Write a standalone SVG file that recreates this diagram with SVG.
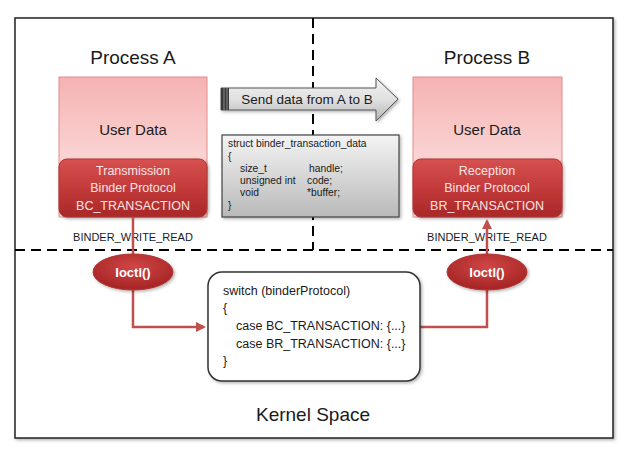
<svg xmlns="http://www.w3.org/2000/svg" width="625" height="458" viewBox="0 0 625 458">
<style>
text{font-family:"Liberation Sans",Arial,sans-serif;fill:#1a1a1a}
.title{font-size:19px;text-anchor:middle}
.ud{font-size:15px;text-anchor:middle}
.proto{font-size:12.5px;text-anchor:middle;fill:#fde4e4}
.bwr{font-size:11px;text-anchor:middle}
.ioctl{font-size:13px;font-weight:bold;text-anchor:middle;fill:#ffffff}
.code{font-size:10.3px}
.sw{font-size:12.5px}
.dash{stroke:#000;stroke-width:2;stroke-dasharray:10 6;fill:none}
.pbox{fill:url(#pink);stroke:#e58a8a;stroke-width:1}
.rbox{fill:url(#red);stroke:#b03535;stroke-width:1}
.ell{fill:url(#redE);stroke:#b03535;stroke-width:1}
.conn{stroke:#c0504d;stroke-width:2.5;fill:none}
</style>
<defs>
<linearGradient id="pink" x1="0" y1="0" x2="0" y2="1">
<stop offset="0" stop-color="#f6b2b2"/>
<stop offset="1" stop-color="#fdecec"/>
</linearGradient>
<linearGradient id="red" x1="0" y1="0" x2="0" y2="1">
<stop offset="0" stop-color="#d65151"/>
<stop offset="0.5" stop-color="#c33a3a"/>
<stop offset="1" stop-color="#a92828"/>
</linearGradient>
<radialGradient id="redE" cx="0.5" cy="0.35" r="0.6">
<stop offset="0" stop-color="#d14646"/>
<stop offset="1" stop-color="#a82626"/>
</radialGradient>
<linearGradient id="gray" x1="0" y1="0" x2="0" y2="1">
<stop offset="0" stop-color="#f4f4f4"/>
<stop offset="1" stop-color="#b9b9b9"/>
</linearGradient>
<linearGradient id="arrowG" x1="0" y1="0" x2="0" y2="1">
<stop offset="0" stop-color="#f2f2f2"/>
<stop offset="0.5" stop-color="#e0e0e0"/>
<stop offset="1" stop-color="#b5b5b5"/>
</linearGradient>
<filter id="sh" x="-10%" y="-10%" width="130%" height="130%">
<feDropShadow dx="1.5" dy="1.5" stdDeviation="1.5" flood-color="#000" flood-opacity="0.3"/>
</filter>
<marker id="ah" viewBox="0 0 10 10" refX="8" refY="5" markerWidth="4" markerHeight="4" orient="auto" markerUnits="strokeWidth">
<path d="M0,0 L10,5 L0,10 Z" fill="#c0504d"/>
</marker>
</defs>
<rect x="0" y="0" width="625" height="458" fill="#ffffff"/>
<rect id="frame" x="15" y="18" width="598" height="420" fill="#ffffff" stroke="#222" stroke-width="1.5" filter="url(#sh)"/>
<g id="dividers">
<line class="dash" x1="313" y1="18" x2="313" y2="250"/>
<line class="dash" x1="15" y1="250" x2="613" y2="250"/>
</g>
<g id="processA">
<text class="title" x="133" y="64">Process A</text>
<rect class="pbox" x="59" y="77" width="148" height="140"/>
<text class="ud" x="133" y="135">User Data</text>
</g>
<g id="protoA">
<rect class="rbox" x="59" y="159" width="148" height="58" rx="8" filter="url(#sh)"/>
<text class="proto" x="133" y="175">Transmission</text>
<text class="proto" x="133" y="192">Binder Protocol</text>
<text class="proto" x="133" y="210">BC_TRANSACTION</text>
</g>
<g id="processB">
<text class="title" x="487" y="64">Process B</text>
<rect class="pbox" x="413" y="77" width="149" height="140"/>
<text class="ud" x="487" y="135">User Data</text>
</g>
<g id="protoB">
<rect class="rbox" x="413" y="159" width="149" height="58" rx="8" filter="url(#sh)"/>
<text class="proto" x="487" y="175">Reception</text>
<text class="proto" x="487" y="192">Binder Protocol</text>
<text class="proto" x="487" y="210">BR_TRANSACTION</text>
</g>
<g id="sendArrow">
<path d="M221,88 H376 V78 L398,99 L376,121 V110 H221 Z" fill="url(#arrowG)" stroke="#555" stroke-width="1" filter="url(#sh)"/>
<rect x="221" y="88" width="8" height="22" fill="#3a3a3a"/>
<line x1="224" y1="88" x2="224" y2="110" stroke="#888" stroke-width="1"/>
<line x1="227" y1="88" x2="227" y2="110" stroke="#888" stroke-width="1"/>
<text x="307" y="104" style="font-size:13.5px;text-anchor:middle">Send data from A to B</text>
</g>
<g id="struct">
<rect x="222" y="135" width="177" height="82" fill="url(#gray)" stroke="#444" stroke-width="1.2" filter="url(#sh)"/>
<text class="code" x="228" y="147">struct binder_transaction_data</text>
<text class="code" x="228" y="160">{</text>
<text class="code" x="240" y="172">size_t</text>
<text class="code" x="309" y="172">handle;</text>
<text class="code" x="240" y="184">unsigned int</text>
<text class="code" x="307" y="184">code;</text>
<text class="code" x="240" y="196">void</text>
<text class="code" x="307" y="196">*buffer;</text>
<text class="code" x="228" y="209">}</text>
</g>
<g id="labels">
<text class="bwr" x="133" y="241">BINDER_WRITE_READ</text>
<text class="bwr" x="487" y="241">BINDER_WRITE_READ</text>
</g>
<g id="connectors">
<path class="conn" d="M133,217 V327 H204" marker-end="url(#ah)"/>
<path class="conn" d="M420,327 H487 V221" marker-end="url(#ah)"/>
</g>
<g id="ioctlA">
<ellipse class="ell" cx="133" cy="272" rx="40" ry="18" filter="url(#sh)"/>
<text class="ioctl" x="133" y="277">Ioctl()</text>
</g>
<g id="ioctlB">
<ellipse class="ell" cx="487" cy="272" rx="40" ry="18" filter="url(#sh)"/>
<text class="ioctl" x="487" y="277">Ioctl()</text>
</g>
<g id="switchBox">
<rect x="208" y="272" width="212" height="109" rx="14" fill="#ffffff" stroke="#333" stroke-width="1.5" filter="url(#sh)"/>
<text class="sw" x="223" y="295">switch (binderProtocol)</text>
<text class="sw" x="223" y="312">{</text>
<text class="sw" x="236" y="330">case BC_TRANSACTION: {...}</text>
<text class="sw" x="236" y="348">case BR_TRANSACTION: {...}</text>
<text class="sw" x="223" y="365">}</text>
</g>
<g id="kernel">
<text class="title" x="313" y="421">Kernel Space</text>
</g>
</svg>
